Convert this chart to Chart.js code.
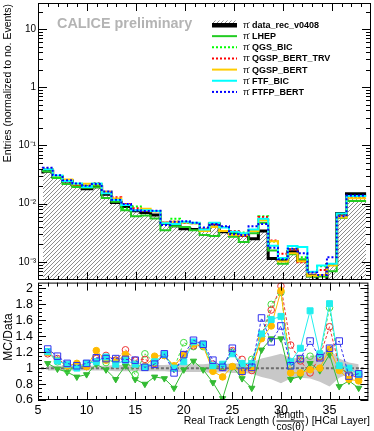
<!DOCTYPE html>
<html>
<head>
<meta charset="utf-8">
<script src="https://cdn.jsdelivr.net/npm/chart.js@4/dist/chart.umd.min.js"></script>
<style>
html, body { margin: 0; padding: 0; background: #fff; }
#wrap { position: relative; width: 374px; height: 431px; }
#top { position: absolute; left: 0; top: 0; }
#bot { position: absolute; left: 0; top: 277px; }
</style>
</head>
<body>
<div id="wrap">
<canvas id="top" width="374" height="283"></canvas>
<canvas id="bot" width="374" height="154"></canvas>
</div>
<script>
Chart.defaults.font.family = "'Liberation Sans', Arial, sans-serif";
Chart.defaults.color = '#000';

// HCal layer bins (bin centres)
var layers = [6,7,8,9,10,11,12,13,14,15,16,17,18,19,20,21,22,23,24,25,26,27,28,29,30,31,32,33,34,35,36,37,38];
var names = ['data_rec_v0408','LHEP','QGS_BIC','QGSP_BERT_TRV','QGSP_BERT','FTF_BIC','FTFP_BERT'];
var ylabels = ['10\u207B\u00B3','10\u207B\u00B2','10\u207B\u00B9','1','10'];
var ydecades = [0.001,0.01,0.1,1,10];
var xlabels = [5,10,15,20,25,30,35];
var rlabels = [0.6,0.8,1,1.2,1.4,1.6,1.8,2];

// normalised entries (upper pad)
var data_rec  = [0.033,0.036,0.029,0.0245,0.021,0.018,0.0195,0.0145,0.0105,0.009,0.0076,0.0071,0.0064,0.0046,0.0042,0.0037,0.0036,0.0035,0.0045,0.0033,0.0031,0.0029,0.0025,0.0034,0.00115,0.00108,0.0015,0.00105,0.00058,0.00048,0.0009,0.0068,0.0148];
var lhep      = [0.035,0.0356,0.0276,0.0218,0.0193,0.0189,0.0191,0.0125,0.0108,0.0077,0.0061,0.0063,0.0056,0.0035,0.0041,0.0040,0.0035,0.0029,0.0028,0.0034,0.0027,0.0022,0.0031,0.0047,0.00158,0.00093,0.00135,0.00111,0.00056,0.00056,0.00069,0.0057,0.0111];
var qgs_bic   = [0.0396,0.0389,0.0284,0.0247,0.0216,0.0203,0.0209,0.0160,0.0118,0.0083,0.0090,0.0076,0.0074,0.0046,0.0055,0.0047,0.0046,0.0036,0.0046,0.0040,0.0031,0.0032,0.0035,0.0061,0.00224,0.00111,0.00167,0.00121,0.00067,0.00084,0.0009,0.0063,0.0136];
var qgsp_trv  = [0.0389,0.0403,0.0299,0.0252,0.0214,0.0202,0.0226,0.0160,0.0129,0.0099,0.0084,0.0075,0.0074,0.0047,0.0049,0.0047,0.0046,0.0037,0.0045,0.0040,0.0034,0.0028,0.0035,0.0059,0.00233,0.00139,0.00164,0.00099,0.00066,0.00073,0.00092,0.0063,0.0130];
var qgsp_bert = [0.0396,0.0396,0.0299,0.0260,0.0214,0.0220,0.0215,0.0157,0.0123,0.0095,0.0078,0.0082,0.0074,0.0047,0.0049,0.0048,0.0046,0.0034,0.0040,0.0034,0.0029,0.0029,0.0034,0.0052,0.00227,0.00102,0.00141,0.00103,0.00058,0.00060,0.00087,0.0058,0.0124];
var ftf_bic   = [0.0399,0.0392,0.0305,0.0245,0.0223,0.0194,0.0222,0.0152,0.0116,0.0095,0.0077,0.0077,0.0075,0.0046,0.0045,0.0049,0.0047,0.0036,0.0047,0.0039,0.0033,0.0031,0.0036,0.0055,0.0019,0.00117,0.00188,0.00181,0.00068,0.00087,0.00093,0.0068,0.0136];
var ftfp_bert = [0.0409,0.0414,0.0307,0.0252,0.0223,0.0203,0.0218,0.0162,0.0117,0.0099,0.0077,0.0075,0.0076,0.0043,0.0049,0.0050,0.0047,0.0039,0.0045,0.0041,0.0030,0.0029,0.0041,0.0045,0.00176,0.00111,0.00168,0.00141,0.00066,0.0006,0.00121,0.0061,0.0138];

// MC/Data ratios (lower pad)
var r_lhep      = [1.06,0.99,0.95,0.89,0.92,1.05,0.98,0.86,1.03,0.86,0.80,0.89,0.87,0.75,0.98,1.09,0.98,0.82,0.62,1.02,0.87,0.75,1.23,1.37,1.37,0.86,0.90,1.06,0.97,1.17,0.77,0.84,0.75];
var r_qgs_bic   = [1.2,1.08,0.98,1.01,1.03,1.13,1.07,1.1,1.12,0.92,1.18,1.07,1.16,1.0,1.32,1.27,1.27,1.02,1.02,1.2,1.0,1.11,1.4,1.8,1.95,1.03,1.11,1.15,1.15,1.76,1.0,0.93,0.92];
var r_qgsp_trv  = [1.18,1.12,1.03,1.03,1.02,1.12,1.16,1.1,1.23,1.1,1.11,1.06,1.16,1.02,1.17,1.28,1.29,1.05,1.01,1.22,1.11,0.97,1.4,1.73,2.03,1.29,1.09,0.94,1.14,1.52,1.02,0.92,0.88];
var r_qgsp_bert = [1.2,1.1,1.03,1.06,1.02,1.22,1.1,1.08,1.17,1.05,1.02,1.15,1.16,1.03,1.16,1.3,1.28,0.96,0.89,1.02,0.95,1.0,1.37,1.53,1.97,0.94,0.94,0.98,1.0,1.24,0.97,0.86,0.84];
var r_ftf_bic   = [1.21,1.09,1.05,1.0,1.06,1.08,1.14,1.05,1.1,1.05,1.01,1.08,1.17,1.0,1.08,1.33,1.3,1.03,1.05,1.18,1.06,1.06,1.43,1.61,1.65,1.08,1.25,1.72,1.18,1.81,1.03,1.0,0.92];
var r_ftfp_bert = [1.24,1.15,1.06,1.03,1.06,1.13,1.12,1.12,1.11,1.1,1.01,1.05,1.18,0.94,1.17,1.35,1.3,1.1,1.01,1.25,0.96,1.01,1.63,1.33,1.53,1.03,1.12,1.34,1.13,1.25,1.34,0.9,0.93];
// data uncertainty band
var band_lo = [0.97,0.97,0.97,0.97,0.97,0.97,0.97,0.96,0.96,0.96,0.96,0.96,0.96,0.95,0.95,0.95,0.95,0.94,0.95,0.94,0.94,0.93,0.89,0.86,0.81,0.87,0.88,0.87,0.83,0.77,0.88,0.93,0.95];
var band_hi = [1.03,1.03,1.03,1.03,1.03,1.03,1.03,1.04,1.04,1.04,1.04,1.04,1.04,1.05,1.05,1.05,1.05,1.06,1.05,1.06,1.06,1.07,1.12,1.15,1.18,1.13,1.12,1.14,1.18,1.23,1.12,1.07,1.05];

var topStyle = [
  {c:'#000000', w:3, d:[]},
  {c:'#22cc22', w:2, d:[]},
  {c:'#00ff00', w:2, d:[2,2]},
  {c:'#ff0000', w:2, d:[2,2]},
  {c:'#ffcc00', w:2, d:[]},
  {c:'#00ffff', w:2, d:[]},
  {c:'#0000ff', w:2, d:[2,2]}
];

function hatchPattern(ctx) {
  var c = document.createElement('canvas');
  c.width = 4; c.height = 4;
  var g = c.getContext('2d');
  g.strokeStyle = '#8c8c8c';
  g.lineWidth = 1;
  g.beginPath();
  g.moveTo(0, 4); g.lineTo(4, 0);
  g.moveTo(-1, 1); g.lineTo(1, -1);
  g.moveTo(3, 5); g.lineTo(5, 3);
  g.stroke();
  return ctx.createPattern(c, 'repeat');
}

function edgePoints(vals) {
  var p = layers.map(function (l, i) { return {x: l - 0.5, y: vals[i]}; });
  p.push({x: layers[layers.length - 1] + 0.5, y: vals[vals.length - 1]});
  return p;
}
function centrePoints(vals) {
  return layers.map(function (l, i) { return {x: l, y: vals[i]}; });
}

function drawFrame(chart, yTicks) {
  var ctx = chart.ctx, a = chart.chartArea, xs = chart.scales.x, ys = chart.scales.y;
  ctx.save();
  ctx.strokeStyle = '#000';
  ctx.lineWidth = 1;
  ctx.setLineDash([]);
  ctx.beginPath();
  for (var v = 6; v <= 38; v++) {
    var px = Math.round(xs.getPixelForValue(v)) + 0.5;
    var L = v % 5 === 0 ? 8 : 4;
    ctx.moveTo(px, a.bottom); ctx.lineTo(px, a.bottom - L);
    ctx.moveTo(px, a.top); ctx.lineTo(px, a.top + L);
  }
  yTicks.forEach(function (t) {
    var py = Math.round(ys.getPixelForValue(t.v)) + 0.5;
    ctx.moveTo(a.left, py); ctx.lineTo(a.left + t.L, py);
    ctx.moveTo(a.right, py); ctx.lineTo(a.right - t.L, py);
  });
  ctx.stroke();
  ctx.strokeRect(a.left + 0.5, a.top + 0.5, a.right - a.left - 1, a.bottom - a.top - 1);
  ctx.restore();
}

var topCtx = document.getElementById('top').getContext('2d');
var hatch = hatchPattern(topCtx);
var topSeries = [data_rec, lhep, qgs_bic, qgsp_trv, qgsp_bert, ftf_bic, ftfp_bert];

var topDatasets = topSeries.map(function (vals, i) {
  var s = topStyle[i];
  return {
    label: names[i],
    data: edgePoints(vals),
    stepped: 'after',
    borderColor: s.c,
    borderWidth: s.w,
    borderDash: s.d,
    borderCapStyle: 'butt',
    borderJoinStyle: 'miter',
    pointRadius: 0,
    fill: i === 0 ? 'start' : false,
    backgroundColor: i === 0 ? hatch : 'transparent',
    order: 10 - i
  };
});

var topPlugin = {
  id: 'topDecor',
  afterDraw: function (chart) {
    var ticks = [];
    for (var e = -4; e <= 1; e++) {
      for (var k = 1; k <= 9; k++) {
        var v = k * Math.pow(10, e);
        if (v >= chart.scales.y.min && v <= chart.scales.y.max) ticks.push({v: v, L: k === 1 ? 9 : 5});
      }
    }
    drawFrame(chart, ticks);
    var ctx = chart.ctx;
    ctx.save();
    // CALICE preliminary
    ctx.fillStyle = '#b4b4b4';
    ctx.font = "bold 14.4px 'Liberation Sans', Arial, sans-serif";
    ctx.textBaseline = 'alphabetic';
    ctx.fillText('CALICE preliminary', 57, 27.5);
    // y title
    ctx.fillStyle = '#000';
    ctx.font = "10.5px 'Liberation Sans', Arial, sans-serif";
    ctx.translate(8.5, 4);
    ctx.rotate(-Math.PI / 2);
    ctx.textAlign = 'right';
    ctx.textBaseline = 'middle';
    ctx.fillText('Entries (normalized to no. Events)', 0, 0);
    ctx.restore();
    // legend
    ctx.save();
    names.forEach(function (n, i) {
      var y = 25 + i * 11.15;
      var s = topStyle[i];
      if (i === 0) {
        ctx.fillStyle = '#000';
        ctx.fillRect(212, y - 2, 25, 4.5);
        ctx.fillStyle = hatch;
        ctx.fillRect(212, y - 4.5, 25, 2.5);
      } else {
        ctx.strokeStyle = s.c;
        ctx.lineWidth = 2;
        ctx.setLineDash(s.d);
        ctx.beginPath();
        ctx.moveTo(212, y); ctx.lineTo(237, y);
        ctx.stroke();
      }
      ctx.fillStyle = '#000';
      ctx.textBaseline = 'middle';
      ctx.font = "9px 'Liberation Sans', Arial, sans-serif";
      ctx.fillText('\u03C0', 243, y + 0.5);
      ctx.font = "6px 'Liberation Sans', Arial, sans-serif";
      ctx.fillText('-', 248.3, y - 2.5);
      ctx.font = "bold 9px 'Liberation Sans', Arial, sans-serif";
      ctx.fillText(n, 252, y + 0.5);
    });
    ctx.restore();
  }
};

new Chart(document.getElementById('top'), {
  type: 'line',
  data: {datasets: topDatasets},
  options: {
    responsive: false,
    animation: false,
    devicePixelRatio: 1,
    layout: {padding: {left: 0, right: 3, top: 3, bottom: 0}},
    plugins: {legend: {display: false}, tooltip: {enabled: false}},
    scales: {
      x: {
        type: 'linear', min: 5, max: 39,
        ticks: {display: false},
        grid: {display: false, drawTicks: false},
        border: {display: false},
        afterFit: function (s) { s.height = 3; s.paddingLeft = 0; s.paddingRight = 0; }
      },
      y: {
        type: 'logarithmic', min: 0.00049, max: 28,
        afterBuildTicks: function (s) { s.ticks = ydecades.map(function (v) { return {value: v}; }); },
        ticks: {
          autoSkip: false, padding: 2,
          font: {size: 10},
          callback: function (v, i) { return ylabels[i]; }
        },
        grid: {display: false, drawTicks: false},
        border: {display: false},
        afterFit: function (s) { s.width = 38; s.paddingTop = 0; s.paddingBottom = 0; }
      }
    }
  },
  plugins: [topPlugin]
});

// ---- ratio pad ----
var ratioSeries = [r_lhep, r_qgs_bic, r_qgsp_trv, r_qgsp_bert, r_ftf_bic, r_ftfp_bert];
var ratioStyle = [
  {c:'#33bb33', d:[], p:'triangle', rot:180, r:3.6, fill:true},
  {c:'#44dd44', d:[3,2], p:'circle', rot:0, r:3.3, fill:false},
  {c:'#ee3333', d:[3,2], p:'circle', rot:0, r:3.3, fill:false},
  {c:'#ffbb00', d:[], p:'circle', rot:0, r:3.3, fill:true},
  {c:'#22eeee', d:[], p:'rect', rot:0, r:4.2, fill:true},
  {c:'#3333ee', d:[3,2], p:'rect', rot:0, r:4.6, fill:false}
];

var botDatasets = [
  {label: 'band_lo', data: centrePoints(band_lo), borderWidth: 0, pointRadius: 0, fill: false, order: 100},
  {label: 'band_hi', data: centrePoints(band_hi), borderWidth: 0, pointRadius: 0, fill: '-1', backgroundColor: '#c8c8c8', order: 99}
];
ratioSeries.forEach(function (vals, i) {
  var s = ratioStyle[i];
  botDatasets.push({
    label: names[i + 1],
    data: centrePoints(vals),
    borderColor: s.c,
    borderWidth: 1,
    borderDash: s.d,
    pointStyle: s.p,
    pointRotation: s.rot,
    pointRadius: s.r,
    pointBorderColor: s.c,
    pointBorderWidth: 1,
    pointBackgroundColor: s.fill ? s.c : 'rgba(0,0,0,0)',
    backgroundColor: s.fill ? s.c : 'rgba(0,0,0,0)',
    fill: false,
    order: 20 - i
  });
});

var botPlugin = {
  id: 'botDecor',
  afterDatasetDraw: function (chart, args) {
    if (args.index !== 1) return;
    var ctx = chart.ctx, a = chart.chartArea, ys = chart.scales.y, xs = chart.scales.x;
    var py = ys.getPixelForValue(1);
    ctx.save();
    ctx.strokeStyle = '#6e6e6e';
    ctx.lineWidth = 2;
    ctx.setLineDash([3, 2]);
    ctx.beginPath();
    ctx.moveTo(xs.getPixelForValue(5.3), py);
    ctx.lineTo(xs.getPixelForValue(38.5), py);
    ctx.stroke();
    ctx.restore();
  },
  afterDraw: function (chart) {
    var ticks = [];
    for (var i = 12; i <= 41; i++) ticks.push({v: i * 0.05, L: i % 4 === 0 ? 8 : 4});
    drawFrame(chart, ticks);
    var ctx = chart.ctx;
    ctx.save();
    ctx.fillStyle = '#000';
    // y title
    ctx.font = "12px 'Liberation Sans', Arial, sans-serif";
    ctx.save();
    ctx.translate(9, 60);
    ctx.rotate(-Math.PI / 2);
    ctx.textAlign = 'center';
    ctx.textBaseline = 'middle';
    ctx.fillText('MC/Data', 0, 0);
    ctx.restore();
    // x title with fraction
    var fMain = "10.5px 'Liberation Sans', Arial, sans-serif";
    var fFrac = "10px 'Liberation Sans', Arial, sans-serif";
    ctx.font = fMain;
    var t1 = 'Real Track Length (', t2 = ') [HCal Layer]';
    var w1 = ctx.measureText(t1).width, w2 = ctx.measureText(t2).width;
    ctx.font = fFrac;
    var wn = Math.max(ctx.measureText('length').width, ctx.measureText('cos(\u03B8)').width);
    var xr = 370, x2 = xr - w2, xc = x2 - wn / 2 - 1, x1 = x2 - wn - 2 - w1;
    ctx.textBaseline = 'alphabetic';
    ctx.font = fMain;
    ctx.fillText(t1, x1, 146.5);
    ctx.fillText(t2, x2, 146.5);
    ctx.font = fFrac;
    ctx.textAlign = 'center';
    ctx.fillText('length', xc, 141);
    ctx.fillText('cos(\u03B8)', xc, 152.5);
    ctx.fillRect(xc - wn / 2, 143.5, wn, 1);
    ctx.restore();
  }
};

new Chart(document.getElementById('bot'), {
  type: 'line',
  data: {datasets: botDatasets},
  options: {
    responsive: false,
    animation: false,
    devicePixelRatio: 1,
    layout: {padding: {left: 0, right: 3, top: 3, bottom: 0}},
    plugins: {legend: {display: false}, tooltip: {enabled: false}},
    elements: {line: {tension: 0}},
    scales: {
      x: {
        type: 'linear', min: 5, max: 39,
        afterBuildTicks: function (s) { s.ticks = xlabels.map(function (v) { return {value: v}; }); },
        ticks: {autoSkip: false, maxRotation: 0, padding: 3, font: {size: 12.5}},
        grid: {display: false, drawTicks: false},
        border: {display: false},
        afterFit: function (s) { s.height = 31; s.paddingLeft = 0; s.paddingRight = 0; }
      },
      y: {
        type: 'linear', min: 0.6, max: 2.074,
        afterBuildTicks: function (s) { s.ticks = rlabels.map(function (v) { return {value: v}; }); },
        ticks: {
          autoSkip: false, padding: 5, font: {size: 12.5},
          callback: function (v) { return String(+v.toFixed(1)); }
        },
        grid: {display: false, drawTicks: false},
        border: {display: false},
        afterFit: function (s) { s.width = 38; s.paddingTop = 0; s.paddingBottom = 0; }
      }
    }
  },
  plugins: [botPlugin]
});
</script>
</body>
</html>
